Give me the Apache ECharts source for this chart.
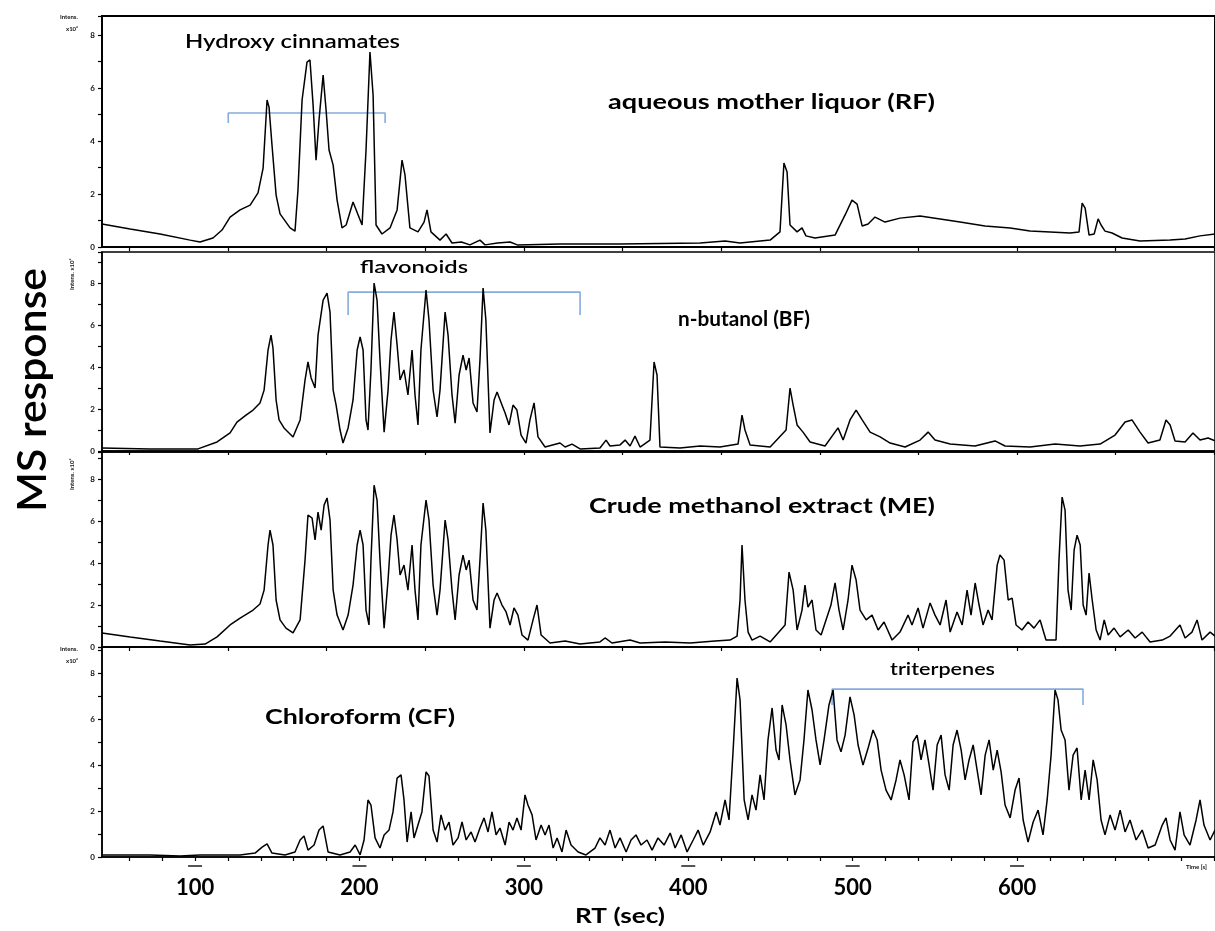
<!DOCTYPE html>
<html><head><meta charset="utf-8">
<script src="https://cdn.jsdelivr.net/npm/echarts@6/dist/echarts.min.js"></script>
<style>html,body{margin:0;padding:0;background:#fff}#c{width:1215px;height:931px}</style>
</head><body><div id="c"></div>
<script>
// ---- data (RT in seconds, intensity in x10^6) ----
const rtMin = 43.4, rtMax = 720.4;
const rfData = [[43.4,0.87],[60.5,0.68],[78.7,0.49],[97.0,0.26],[103.0,0.19],[110.9,0.34],[116.4,0.64],[121.3,1.13],[127.4,1.40],[133.5,1.58],[138.3,2.04],[141.4,2.98],[143.8,5.55],[145.0,5.28],[146.8,3.85],[149.3,1.96],[151.7,1.25],[157.8,0.72],[160.8,0.60],[162.6,2.15],[165.1,5.55],[168.1,6.98],[169.9,7.06],[171.8,5.36],[173.6,3.28],[175.4,4.79],[177.9,6.49],[179.7,5.17],[181.5,3.66],[184.0,3.09],[186.4,1.77],[189.4,0.72],[191.9,0.83],[196.1,1.70],[199.2,1.21],[201.6,0.83],[204.0,3.66],[206.4,7.36],[208.3,5.74],[210.1,0.83],[213.7,0.49],[218.6,0.72],[222.9,1.40],[225.9,3.28],[227.7,2.72],[230.7,0.72],[235.6,0.57],[239.3,0.94],[241.1,1.40],[243.5,0.57],[249.0,0.26],[252.7,0.49],[256.3,0.15],[262.0,0.19],[267.2,0.08],[273.3,0.26],[276.4,0.08],[284.0,0.15],[291.6,0.19],[296.0,0.08],[322.0,0.11],[358.5,0.11],[407.2,0.15],[422.4,0.23],[431.5,0.15],[449.8,0.26],[455.8,0.57],[458.2,3.17],[460.1,2.83],[461.9,0.83],[466.2,0.57],[469.2,0.72],[471.6,0.42],[477.1,0.34],[489.3,0.45],[495.4,1.21],[499.6,1.77],[502.7,1.62],[505.8,0.79],[509.4,0.87],[513.6,1.13],[519.7,0.94],[528.8,1.09],[541.0,1.17],[553.2,1.06],[565.3,0.94],[580.5,0.79],[595.8,0.72],[607.9,0.60],[620.1,0.57],[632.2,0.53],[637.7,0.57],[639.6,1.66],[641.4,1.47],[643.8,0.45],[646.9,0.49],[649.3,1.06],[651.1,0.83],[653.5,0.60],[657.8,0.53],[663.9,0.34],[674.8,0.23],[693.1,0.26],[702.2,0.30],[711.3,0.42],[720.4,0.49]];
const bfData = [[43.4,0.14],[72.6,0.10],[101.8,0.10],[113.4,0.43],[121.3,0.86],[125.5,1.38],[131.0,1.71],[135.3,1.95],[139.5,2.29],[142.0,2.90],[144.4,4.81],[146.2,5.52],[147.4,4.90],[149.3,2.43],[151.1,1.48],[154.1,1.10],[159.6,0.67],[163.9,1.48],[166.9,3.38],[168.7,4.24],[170.6,3.48],[173.0,3.00],[174.8,5.52],[177.9,7.19],[180.3,7.52],[182.1,6.62],[184.0,2.90],[185.8,2.19],[188.2,1.00],[190.0,0.38],[193.1,1.10],[196.1,2.43],[198.6,4.81],[200.4,5.43],[202.2,4.81],[204.0,1.48],[205.2,1.00],[207.0,3.86],[208.9,8.00],[210.7,7.19],[212.5,4.33],[215.0,0.90],[217.4,2.90],[219.2,5.29],[221.0,6.62],[222.9,5.05],[224.7,3.38],[227.1,3.86],[229.5,2.67],[232.0,4.81],[233.8,2.67],[235.6,1.24],[237.4,4.81],[240.5,7.67],[242.3,6.24],[244.8,2.90],[247.2,1.62],[249.0,2.90],[252.1,6.62],[253.9,5.52],[256.3,2.67],[258.2,1.33],[260.6,3.62],[263.0,4.57],[264.9,3.86],[266.7,4.43],[269.1,2.29],[271.5,1.86],[273.3,4.33],[275.2,7.76],[276.9,6.24],[279.4,0.86],[281.9,2.43],[283.7,2.81],[286.7,2.19],[288.6,1.81],[291.0,1.24],[293.4,2.19],[295.8,1.95],[298.3,0.76],[301.3,0.38],[303.7,1.48],[306.2,2.29],[308.6,0.67],[312.9,0.19],[322.0,0.38],[325.1,0.19],[329.3,0.33],[334.2,0.10],[346.3,0.14],[350.0,0.52],[352.4,0.24],[358.5,0.29],[361.6,0.52],[364.6,0.24],[367.6,0.71],[370.7,0.19],[376.7,0.52],[379.2,4.24],[381.0,3.62],[382.8,0.19],[395.0,0.14],[407.2,0.24],[419.3,0.19],[430.3,0.33],[432.7,1.71],[434.5,1.00],[437.6,0.29],[449.8,0.19],[459.5,1.00],[461.9,3.00],[463.8,2.19],[466.2,1.24],[469.8,0.90],[474.1,0.43],[483.2,0.24],[491.1,1.10],[494.2,0.52],[498.4,1.48],[502.1,1.95],[505.8,1.48],[510.6,0.90],[516.7,0.67],[522.8,0.38],[531.9,0.19],[541.0,0.52],[545.9,0.90],[550.1,0.52],[559.3,0.33],[574.4,0.24],[586.6,0.48],[592.7,0.24],[607.9,0.19],[623.1,0.33],[638.3,0.24],[650.5,0.33],[659.6,0.76],[665.7,1.38],[669.9,1.48],[674.8,0.90],[679.7,0.38],[686.9,0.52],[690.6,1.48],[693.1,1.24],[696.1,0.48],[702.2,0.43],[707.0,0.86],[711.3,0.52],[716.2,0.62],[720.4,0.48]];
const meData = [[43.4,0.67],[60.5,0.48],[78.7,0.29],[97.0,0.10],[106.1,0.14],[113.4,0.48],[121.3,1.05],[127.4,1.38],[135.3,1.76],[139.5,2.05],[142.0,2.71],[144.4,4.86],[145.6,5.57],[147.4,4.86],[149.3,2.24],[151.7,1.29],[155.3,0.90],[159.6,0.67],[163.9,1.29],[166.9,4.14],[168.7,6.29],[171.2,6.14],[173.0,5.10],[174.8,6.43],[176.7,5.57],[178.5,6.76],[180.3,7.10],[182.1,6.05],[184.0,2.71],[186.4,1.52],[190.0,0.81],[193.1,1.52],[196.1,2.95],[198.6,4.86],[200.4,5.57],[202.2,4.86],[204.0,1.76],[205.8,1.05],[207.0,4.14],[208.9,7.71],[210.7,7.00],[212.5,4.14],[215.0,0.90],[217.4,3.19],[219.2,5.33],[221.0,6.29],[222.9,5.10],[224.7,3.43],[227.1,3.90],[229.5,2.71],[232.0,4.86],[233.8,2.71],[235.6,1.29],[237.4,4.86],[240.5,7.00],[242.3,6.05],[244.8,2.95],[247.2,1.52],[249.0,2.71],[252.1,6.05],[253.9,5.10],[256.3,2.71],[258.2,1.29],[260.6,3.43],[263.0,4.38],[264.9,3.67],[266.7,4.14],[269.1,2.24],[271.5,1.76],[273.3,4.14],[275.2,6.86],[276.9,5.57],[279.4,0.90],[281.9,2.24],[283.7,2.57],[286.7,2.00],[289.2,1.67],[291.6,1.05],[294.0,1.86],[296.4,1.52],[298.9,0.57],[302.5,0.33],[305.6,1.29],[308.0,2.00],[310.5,0.57],[315.9,0.19],[325.1,0.29],[334.2,0.14],[346.3,0.24],[349.4,0.43],[353.6,0.19],[364.6,0.33],[370.7,0.19],[385.9,0.24],[401.1,0.19],[416.3,0.29],[425.4,0.33],[429.7,0.52],[431.5,2.24],[432.7,4.86],[434.5,2.24],[436.4,0.71],[438.8,0.33],[443.7,0.52],[449.8,0.24],[458.9,1.05],[461.3,3.57],[463.8,2.71],[466.2,0.81],[469.2,1.76],[471.0,2.95],[472.8,1.90],[475.3,2.24],[477.7,0.81],[480.8,0.57],[483.8,1.29],[486.8,2.00],[489.3,3.05],[491.7,1.76],[494.2,0.81],[497.2,2.24],[499.6,3.90],[502.1,3.19],[504.5,1.76],[508.2,1.29],[511.8,1.52],[515.5,0.81],[519.1,1.19],[524.0,0.33],[528.8,0.71],[533.7,1.52],[536.1,1.05],[539.8,1.86],[542.8,0.90],[547.1,2.10],[550.1,1.52],[553.2,1.05],[556.8,2.24],[559.3,0.71],[563.5,1.67],[566.6,1.05],[569.6,2.71],[572.0,1.52],[574.5,3.05],[576.9,2.00],[579.3,1.05],[582.4,1.76],[584.8,1.29],[587.9,3.90],[589.6,4.38],[592.1,4.14],[594.6,2.24],[597.0,2.33],[599.4,1.05],[603.0,0.81],[606.7,1.19],[610.3,0.90],[614.0,1.29],[617.6,0.33],[623.7,0.33],[625.5,4.14],[627.4,7.14],[629.2,6.52],[631.0,2.71],[632.9,1.76],[634.7,4.62],[636.5,5.33],[638.4,4.86],[640.2,2.00],[642.0,1.52],[643.8,3.52],[645.7,2.24],[648.1,0.81],[650.5,0.33],[653.0,1.29],[655.4,0.57],[659.0,0.90],[662.7,0.48],[667.6,0.81],[671.8,0.43],[676.1,0.71],[680.9,0.24],[688.3,0.33],[693.1,0.52],[699.1,1.05],[702.2,0.43],[706.4,0.71],[709.5,1.29],[712.5,0.33],[717.4,0.71],[720.4,0.52]];
const cfData = [[43.4,0.09],[72.6,0.09],[90.9,0.04],[103.0,0.09],[127.4,0.09],[136.5,0.17],[140.8,0.43],[143.8,0.57],[146.8,0.17],[154.7,0.09],[160.8,0.22],[163.9,0.74],[166.3,0.91],[168.7,0.30],[172.4,0.52],[175.4,1.17],[177.9,1.35],[180.9,0.22],[188.2,0.09],[194.3,0.22],[197.4,0.52],[200.4,0.09],[202.8,0.74],[205.2,2.48],[207.0,2.26],[209.5,0.83],[212.5,0.39],[215.0,0.96],[218.0,1.17],[220.4,1.96],[222.9,3.43],[225.3,3.57],[227.1,2.48],[229.0,0.65],[231.4,1.96],[233.2,0.83],[235.6,1.39],[238.0,1.96],[240.5,3.70],[242.3,3.52],[244.8,1.17],[247.2,0.65],[249.6,1.83],[252.1,1.17],[254.5,1.52],[256.9,0.52],[260.0,0.83],[262.4,1.52],[264.9,0.74],[267.9,1.09],[270.3,0.65],[273.3,1.26],[275.8,1.70],[278.2,1.09],[280.6,1.96],[283.1,0.96],[285.5,1.26],[288.6,0.52],[291.0,1.52],[293.4,1.17],[295.8,1.70],[298.3,1.17],[300.7,2.70],[302.5,2.26],[305.0,1.83],[307.4,0.74],[310.5,1.39],[312.9,0.96],[315.3,1.39],[317.8,0.39],[320.2,0.83],[323.2,0.22],[325.7,1.17],[328.7,0.52],[333.0,0.22],[337.8,0.09],[343.3,0.39],[346.3,0.83],[349.4,0.52],[352.4,1.17],[355.5,0.39],[358.5,0.83],[362.2,0.22],[365.2,0.74],[368.2,0.96],[371.3,0.52],[374.9,0.74],[378.0,0.30],[381.6,0.83],[385.3,0.52],[389.0,1.04],[392.0,0.39],[395.7,0.96],[399.3,0.22],[403.0,0.74],[406.0,1.17],[409.1,0.52],[413.3,1.09],[417.0,1.96],[419.3,1.39],[422.4,2.48],[424.8,1.61],[427.3,4.65],[429.7,7.78],[431.5,6.83],[434.0,2.48],[436.4,1.61],[438.8,2.70],[441.2,2.04],[443.7,3.57],[446.1,2.48],[448.5,5.09],[451.0,6.48],[453.4,4.65],[455.2,4.22],[457.1,6.61],[459.5,5.74],[461.9,4.22],[464.9,2.70],[468.0,3.35],[470.4,5.09],[472.8,7.26],[475.3,6.39],[477.7,5.09],[480.2,4.00],[482.6,5.09],[485.6,6.61],[488.1,7.26],[490.5,5.09],[492.9,4.57],[495.4,5.30],[498.4,6.96],[500.9,6.17],[503.3,4.87],[506.3,4.00],[509.4,4.74],[512.4,5.52],[514.9,5.09],[517.3,3.78],[520.3,2.91],[523.4,2.48],[526.4,3.35],[528.8,4.22],[531.3,3.57],[534.3,2.48],[536.7,5.00],[539.2,5.30],[541.6,4.22],[544.0,5.09],[546.5,4.00],[548.9,2.91],[551.4,4.87],[553.8,5.30],[556.2,3.57],[558.7,2.91],[561.1,4.87],[563.5,5.52],[566.0,4.65],[568.4,3.35],[570.8,4.22],[573.3,4.87],[575.7,3.78],[578.1,2.70],[580.6,4.43],[583.0,5.09],[585.5,3.78],[587.9,4.65],[590.3,3.70],[592.7,2.26],[595.8,1.70],[598.8,2.91],[601.2,3.43],[603.7,1.61],[606.7,0.65],[609.8,1.52],[612.8,2.04],[615.8,0.96],[618.3,2.48],[620.7,4.43],[623.1,7.26],[624.9,6.83],[626.8,5.52],[629.2,5.09],[631.6,2.91],[634.1,4.43],[636.5,4.74],[639.0,2.48],[641.4,3.78],[643.8,2.48],[646.3,4.22],[648.7,3.35],[651.1,1.61],[653.5,0.96],[656.6,1.83],[659.6,1.17],[662.7,2.04],[665.7,1.09],[668.7,1.61],[672.4,0.74],[676.1,1.17],[679.7,0.39],[684.0,0.52],[688.3,1.39],[690.6,1.70],[693.1,0.74],[696.1,0.30],[699.1,1.96],[701.6,0.96],[705.2,0.52],[708.9,1.61],[711.3,2.48],[713.7,1.39],[717.4,0.74],[720.4,1.17]];
const hydroxyBracket = [[120.2,4.68],[120.2,5.06],[215.6,5.06],[215.6,4.68]];
const flavonoidBracket = [[193.1,6.48],[193.1,7.57],[334.2,7.57],[334.2,6.48]];
const triterpeneBracket = [[487.5,6.61],[487.5,7.30],[640.1,7.30],[640.1,6.61]];
const xTickLabels = [100,200,300,400,500,600];
const yTickLabels = [0,2,4,6,8];
const panelNames = ['aqueous mother liquor (RF)','n-butanol (BF)','Crude methanol extract (ME)','Chloroform (CF)'];
const groupNames = ['Hydroxy cinnamates','flavonoids','triterpenes'];
const axisTitleX = 'RT (sec)', axisTitleY = 'MS response';

// ---- layout ----
const layout = [
  {top:16, height:231, yMax:8.72},
  {top:252, height:199, yMax:9.48},
  {top:452, height:195, yMax:9.29},
  {top:647, height:210, yMax:9.13}
];
const seriesData = [rfData, bfData, meData, cfData];
const brackets = [[0, hydroxyBracket],[1, flavonoidBracket],[3, triterpeneBracket]];
const minuteTicks = []; for (let v = 60; v <= 720; v += 60) minuteTicks.push(v);
const fineTicks = []; for (let v = 60; v <= 720; v += 20) fineTicks.push(v);
const FONT = 'Lato';

const chart = echarts.init(document.getElementById('c'), null, {renderer:'canvas'});
const ctx = document.createElement('canvas').getContext('2d');
function fitText(text, x, y, size, weight, width, align, rot) {
  ctx.font = weight + ' ' + size + 'px ' + FONT;
  const w = ctx.measureText(text).width;
  return {type:'text', x:x, y:y, rotation:rot||0, scaleX: width ? width / w : 1, scaleY:1, silent:true,
    style:{text:text, fontSize:size, fontFamily:FONT, fontWeight:weight, fill:'#000', align:align||'left', verticalAlign:'middle'}};
}
function tiny(text, x, y, rot) {
  return {type:'text', x:x, y:y, rotation:rot||0, silent:true,
    style:{text:text, fontSize:6, fontFamily:FONT, fontWeight:'bold', fill:'#111', align:'left', verticalAlign:'middle'}};
}

const option = {
  animation:false,
  backgroundColor:'#fff',
  grid: layout.map((l,i) => ({left:102, right:0, top:l.top, height:l.height, show:true, borderColor:'#000', borderWidth: i===0 ? 2 : 1.5, backgroundColor:'transparent'})),
  xAxis: layout.map((l,i) => ({
    type:'value', gridIndex:i, min:rtMin, max:rtMax,
    axisLine:{show:true, onZero:false, lineStyle:{color:'#000', width: i===1 ? 2.5 : 1.5}},
    axisTick:{show:true, length:4, customValues: i < 3 ? minuteTicks : fineTicks, lineStyle:{color:'#000', width:1.2}},
    axisLabel: i < 3 ? {show:false} : {show:true, customValues:xTickLabels, margin:5,
      formatter: v => '{b| }\n{n|' + v + '}',
      rich:{b:{width:14, height:2, lineHeight:8, backgroundColor:'#555'}, n:{fontSize:22, fontWeight:'bold', fontFamily:FONT, color:'#000', lineHeight:36}}},
    splitLine:{show:false}
  })),
  yAxis: layout.map((l,i) => ({
    type:'value', gridIndex:i, min:0, max:l.yMax, interval:1,
    axisLine:{show:true, lineStyle:{color:'#000', width:1.5}},
    axisTick:{show:true, length:4, lineStyle:{color:'#000', width:1.2}},
    axisLabel:{fontSize:8, fontWeight:'bold', fontFamily:FONT, color:'#111', margin:7,
      formatter: v => yTickLabels.includes(v) ? String(v) : ''},
    splitLine:{show:false}
  })),
  series: seriesData.map((d,i) => ({
    type:'line', xAxisIndex:i, yAxisIndex:i, data:d, showSymbol:false, symbol:'none',
    lineStyle:{color:'#000', width:1.5}, silent:true, z:3
  })).concat(brackets.map(b => ({
    type:'line', xAxisIndex:b[0], yAxisIndex:b[0], data:b[1], showSymbol:false, symbol:'none',
    lineStyle:{color:'#86acdb', width:1.6}, silent:true, z:2
  }))),
  graphic: [
    fitText(groupNames[0], 185, 42, 19, '600', 215),
    fitText(panelNames[0], 608, 103, 20, 'bold', 327),
    fitText(groupNames[1], 360, 268, 17, '600', 108),
    fitText(panelNames[1], 678, 320, 20, 'bold', 132),
    fitText(panelNames[2], 589, 507, 20, 'bold', 346),
    fitText(panelNames[3], 265, 718, 20, 'bold', 190),
    fitText(groupNames[2], 890, 670, 17, '600', 105),
    fitText(axisTitleX, 620, 917, 20, 'bold', 90, 'center'),
    fitText(axisTitleY, 33, 390, 40, '600', 244, 'center', Math.PI/2),
    tiny('Intens.', 60, 17), tiny('x10\u2076', 66, 29),
    tiny('Intens. x10\u2076', 72, 290, Math.PI/2),
    tiny('Intens. x10\u2076', 72, 490, Math.PI/2),
    tiny('Intens.', 60, 649), tiny('x10\u2076', 66, 661),
    tiny('Time [s]', 1186, 867)
  ]
};
chart.setOption(option);
</script></body></html>
